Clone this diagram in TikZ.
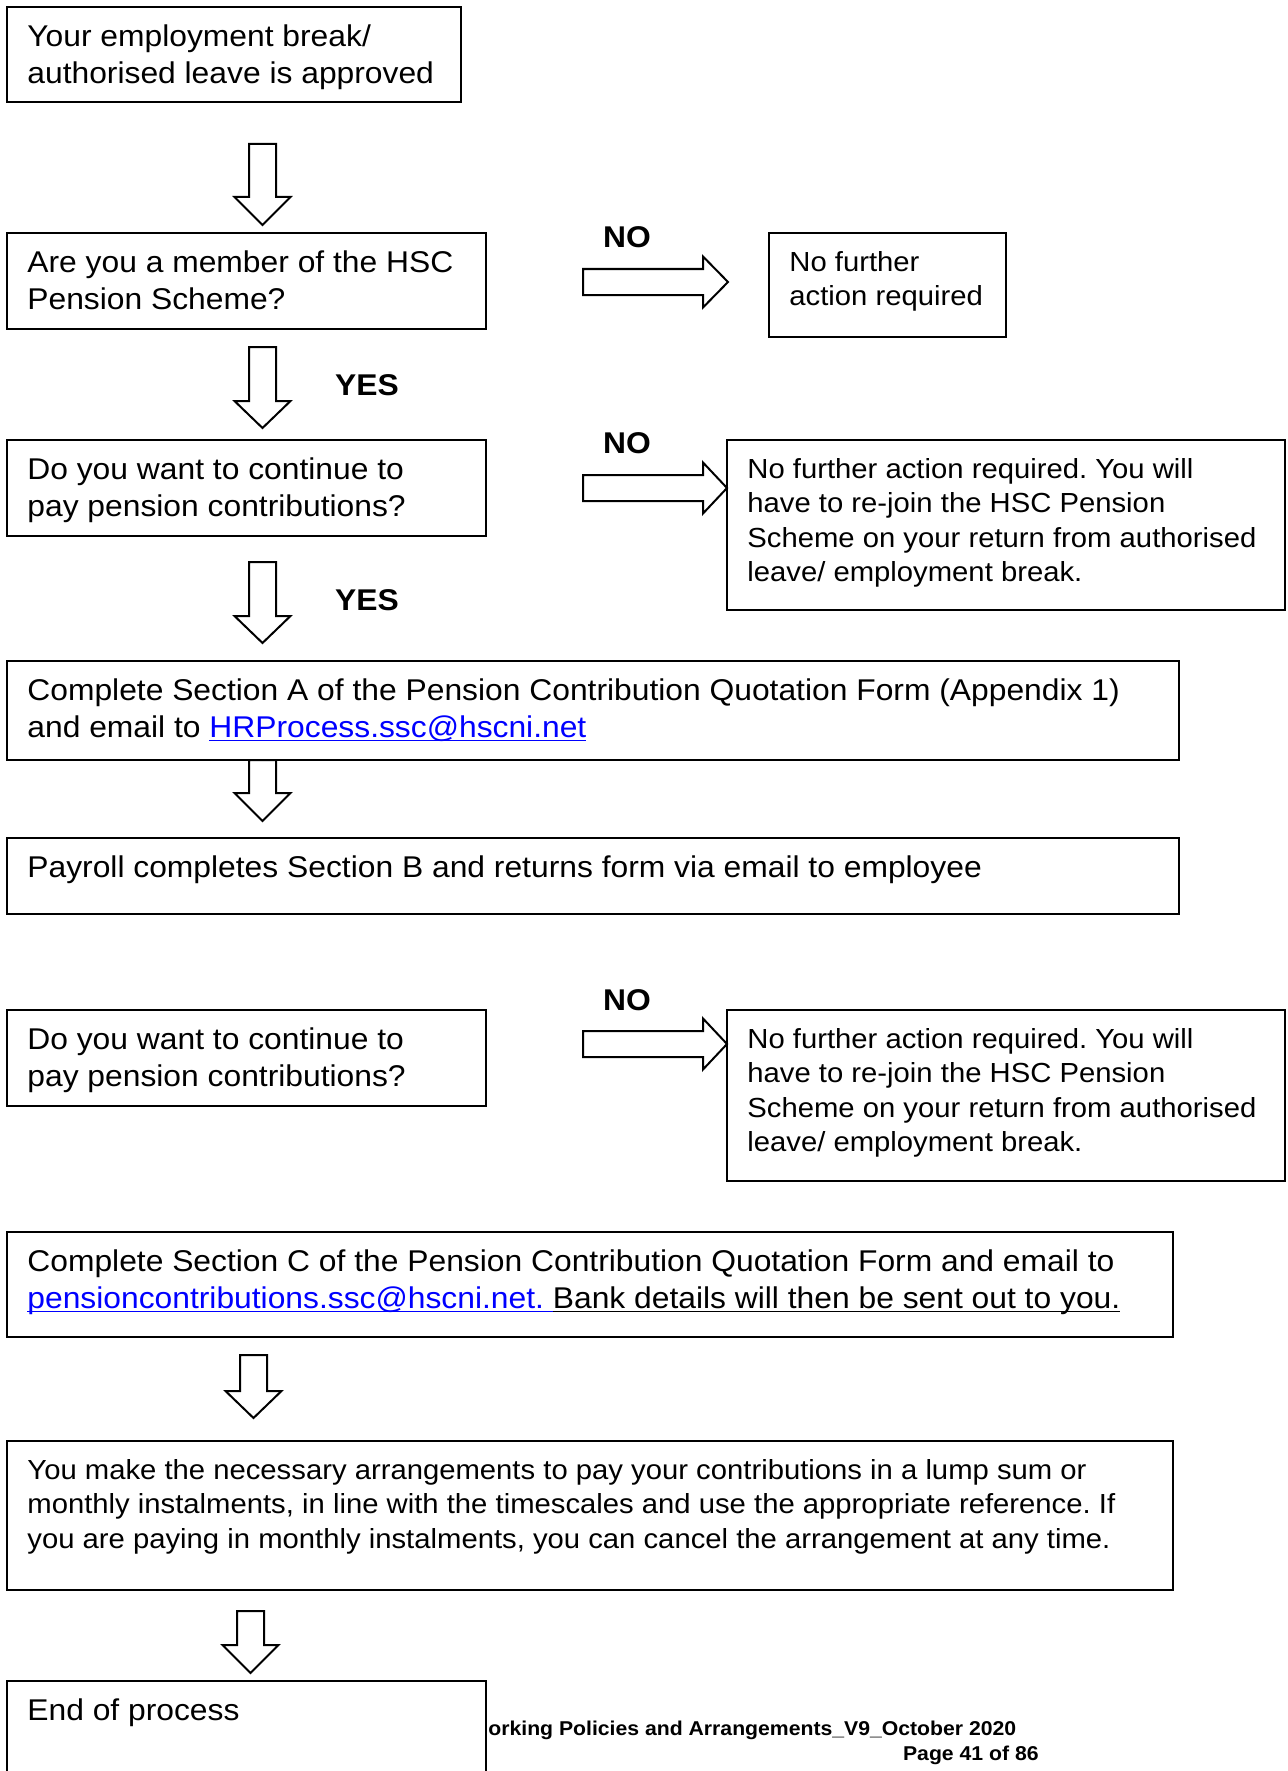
\documentclass[tikz,border=0pt]{standalone}
\usepackage{fontspec}
\setmainfont{Liberation Sans}[FakeStretch=1.06]
\usetikzlibrary{calc, fit}
\definecolor{linkblue}{RGB}{0,0,255}
% underline at a fixed depth below the baseline
\newcommand{\uln}[1]{\setbox0\hbox{#1}\rlap{\rule[-1.8pt]{\wd0}{0.7pt}}\box0}
\frenchspacing

\begin{document}
\begin{tikzpicture}[
    x=0.5pt, y=-0.5pt,
    frame/.style={draw=black, line width=1pt, fill=white, inner sep=0pt},
    words/.style={anchor=north west, inner sep=0pt, align=left, font=\fontsize{15}{18.25}\selectfont},
    small words/.style={words, font=\fontsize{13.8}{17.15}\selectfont},
    answer/.style={inner sep=0pt, font=\fontsize{15}{18.25}\selectfont\bfseries},
    footer/.style={inner sep=0pt, font=\fontsize{10}{11.5}\selectfont\bfseries},
    blockarrow/.style={draw=black, line width=1pt, fill=white, line join=miter}
]

    \path[use as bounding box, clip] (0,0) rectangle (1287,1771);

    % box with its text: style, name, top left, bottom right, text
    \newcommand{\flowbox}[5][words]{
        \node[frame, fit={#3 #4}] (#2) {};
        \node[#1] (#2-text) at ($(#2.north west)+(21,15)$) {\strut #5};
    }
    % hollow arrow pointing down: centre x, top, head base, tip
    \newcommand{\blockdown}[4]{
        \draw[blockarrow] ({#1-13.5},#2) -- ({#1+13.5},#2) -- ({#1+13.5},#3) -- ({#1+28},#3)
            -- (#1,#4) -- ({#1-28},#3) -- ({#1-13.5},#3) -- cycle;
    }
    % hollow arrow pointing right: centre y, tail, head base, tip
    \newcommand{\blockright}[4]{
        \draw[blockarrow] (#2,{#1-13}) -- (#3,{#1-13}) -- (#3,{#1-25.5}) -- (#4,#1)
            -- (#3,{#1+25.5}) -- (#3,{#1+13}) -- (#2,{#1+13}) -- cycle;
    }

    % --- Start and the two questions ---
    \flowbox{approved}{(7,7)}{(461,102)}{Your employment break/\\authorised leave is approved}
    \flowbox{member}{(7,233)}{(486,329)}{Are you a member of the HSC\\Pension Scheme?}
    \flowbox[small words]{noaction}{(769,233)}{(1006,337)}{No further\\action required}
    \flowbox{continue}{(7,440)}{(486,536)}{Do you want to continue to\\pay pension contributions?}
    \flowbox[small words]{rejoin}{(727,440)}{(1285,610)}{No further action required. You will\\have to re-join the HSC Pension\\Scheme on your return from authorised\\leave/ employment break.}

    % --- Quotation forms ---
    \flowbox{sectionA}{(7,661)}{(1179,760)}{Complete Section A of the Pension Contribution Quotation Form (Appendix 1)\\and email to \textcolor{linkblue}{\uln{HRProcess.ssc@hscni.net}}}
    \flowbox{sectionB}{(7,838)}{(1179,914)}{Payroll completes Section B and returns form via email to employee}

    % --- Second decision ---
    \flowbox{confirm}{(7,1010)}{(486,1106)}{Do you want to continue to\\pay pension contributions?}
    \flowbox[small words]{rejoinagain}{(727,1010)}{(1285,1181)}{No further action required. You will\\have to re-join the HSC Pension\\Scheme on your return from authorised\\leave/ employment break.}

    % --- Payment ---
    \flowbox{sectionC}{(7,1232)}{(1173,1337)}{Complete Section C of the Pension Contribution Quotation Form and email to\\\textcolor{linkblue}{\uln{pensioncontributions.ssc@hscni.net.\ }}\uln{Bank details will then be sent out to you.}}
    \flowbox[small words]{arrange}{(7,1441)}{(1173,1590)}{You make the necessary arrangements to pay your contributions in a lump sum or\\monthly instalments, in line with the timescales and use the appropriate reference. If\\you are paying in monthly instalments, you can cancel the arrangement at any time.}
    \flowbox{finish}{(7,1681)}{(486,1800)}{End of process}

    % Down arrows
    \blockdown{262.5}{144}{197}{225}
    \blockdown{262.5}{347}{401}{428}
    \blockdown{262.5}{562}{616}{643}
    \blockdown{262.5}{760}{793}{821}
    \blockdown{253.5}{1355}{1391}{1418}
    \blockdown{250.5}{1611}{1645}{1673}

    % NO arrows
    \blockright{282}{583}{703}{728}
    \blockright{488}{583}{703}{727}
    \blockright{1044}{583}{703}{727}

    % Answers
    \node[answer] (no1) at (627,237) {NO};
    \node[answer] (no2) at (627,443) {NO};
    \node[answer] (no3) at (627,1000) {NO};
    \node[answer] (yes1) at (367,385) {YES};
    \node[answer] (yes2) at (367,600) {YES};

    % Footer
    \node[footer, anchor=west] (footline) at (488,1730) {orking Policies and Arrangements\_V9\_October 2020};
    \node[footer, anchor=east] (pageno) at (1039,1755) {Page 41 of 86};
\end{tikzpicture}
\end{document}
